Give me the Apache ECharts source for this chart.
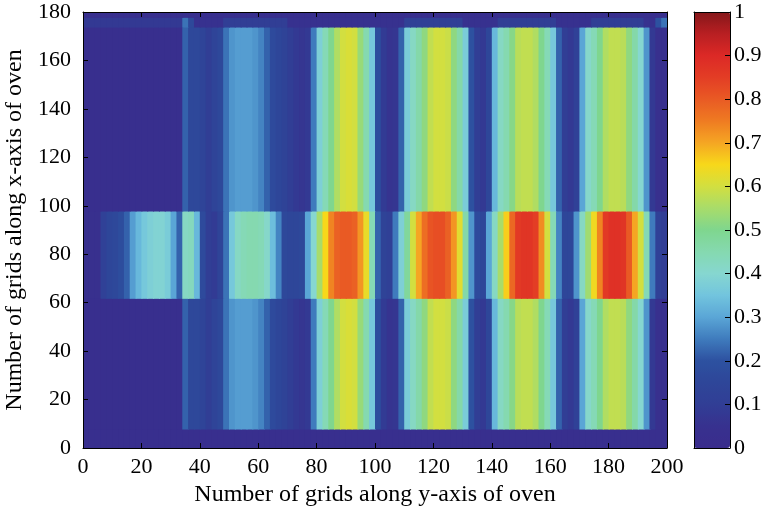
<!DOCTYPE html>
<html>
<head>
<meta charset="utf-8">
<script src="https://cdn.jsdelivr.net/npm/echarts@6/dist/echarts.min.js"></script>
<style>html,body{margin:0;padding:0;background:#fff}#c{width:762px;height:515px}</style>
</head>
<body>
<div id="c"></div>
<script>
// ---- data ----
// Each profile: 100 column values, column i covers x in [2i, 2i+2]
const cellSize = 2;
const xTickLabels = [0,20,40,60,80,100,120,140,160,180,200];
const yTickLabels = [0,20,40,60,80,100,120,140,160,180];
const colorbarTicks = [0,0.1,0.2,0.3,0.4,0.5,0.6,0.7,0.8,0.9,1];

const outerProfile = [
0.03,0.03,0.03,0.03,0.03,0.03,0.03,0.03,0.03,0.03,
0.03,0.03,0.03,0.03,0.03,0.03,0.03,0.22,0.16,0.16,
0.14,0.10,0.14,0.16,0.24,0.28,0.29,0.29,0.29,0.28,
0.26,0.22,0.17,0.15,0.13,0.10,0.08,0.07,0.08,0.25,
0.38,0.44,0.50,0.56,0.60,0.61,0.60,0.53,0.45,0.36,
0.18,0.09,0.06,0.07,0.22,0.37,0.42,0.46,0.52,0.58,
0.60,0.60,0.59,0.52,0.46,0.37,0.20,0.10,0.08,0.15,
0.33,0.42,0.45,0.51,0.57,0.58,0.58,0.56,0.50,0.44,
0.36,0.22,0.10,0.08,0.12,0.30,0.41,0.44,0.50,0.56,
0.58,0.58,0.57,0.52,0.46,0.40,0.28,0.08,0.04,0.04
];
const middleProfile = [
0.04,0.04,0.04,0.12,0.15,0.16,0.18,0.22,0.29,0.33,
0.36,0.38,0.39,0.39,0.37,0.30,0.22,0.42,0.43,0.33,
0.17,0.10,0.09,0.14,0.24,0.36,0.42,0.44,0.45,0.45,
0.44,0.41,0.34,0.26,0.16,0.15,0.15,0.16,0.30,0.40,
0.55,0.65,0.74,0.79,0.80,0.80,0.79,0.72,0.63,0.44,
0.22,0.13,0.11,0.25,0.38,0.48,0.60,0.70,0.77,0.81,
0.82,0.82,0.79,0.72,0.62,0.46,0.28,0.17,0.15,0.30,
0.42,0.55,0.66,0.78,0.86,0.87,0.87,0.85,0.73,0.60,
0.44,0.26,0.15,0.15,0.28,0.42,0.54,0.64,0.74,0.86,
0.88,0.88,0.87,0.80,0.70,0.60,0.44,0.25,0.12,0.10
];
const topLineProfile = [
0.08,0.08,0.08,0.08,0.08,0.08,0.08,0.08,0.08,0.08,
0.08,0.08,0.08,0.08,0.08,0.08,0.08,0.24,0.16,0.05,
0.05,0.05,0.05,0.05,0.10,0.10,0.10,0.10,0.10,0.10,
0.10,0.10,0.10,0.10,0.10,0.05,0.05,0.05,0.05,0.05,
0.05,0.05,0.05,0.05,0.05,0.05,0.05,0.05,0.05,0.05,
0.05,0.05,0.05,0.05,0.05,0.11,0.11,0.11,0.11,0.11,
0.11,0.11,0.11,0.11,0.11,0.05,0.05,0.05,0.05,0.05,
0.05,0.10,0.10,0.10,0.10,0.10,0.10,0.10,0.10,0.10,
0.10,0.05,0.05,0.05,0.05,0.05,0.05,0.10,0.10,0.10,
0.10,0.10,0.10,0.10,0.10,0.10,0.05,0.05,0.20,0.24
];
const darkLevel = 0.03;
// horizontal bands: [yStart, yEnd, profile name]
const rowBands = [
  [0, 8, 'dark'],
  [8, 62, 'outer'],
  [62, 98, 'middle'],
  [98, 174, 'outer'],
  [174, 178, 'topLine'],
  [178, 180, 'dark']
];
const jetColors = ['#3a2c8c','#37318f','#313e95','#2e4699','#2d51a0','#3f7bbd','#5aa6d6','#72c4de','#86d7d0','#85d9b0','#7fd68e','#a8dc6a','#d2df40','#f7d81a','#f5a623','#ef7b22','#e95a24','#e33d25','#dc2926','#b81f22','#85171a'];

// ---- build table: [x0, x1, y0, y1, value] ----
const profiles = {outer: outerProfile, middle: middleProfile, topLine: topLineProfile};
const nCols = outerProfile.length;
const cells = [];
rowBands.forEach(([y0, y1, name]) => {
  for (let i = 0; i < nCols; i++) {
    const v = name === 'dark' ? darkLevel : profiles[name][i];
    cells.push([i * cellSize, (i + 1) * cellSize, y0, y1, v]);
  }
});

const FONT = 'Liberation Serif';
const black = '#000';
const G = {left: 83, top: 12, width: 584, height: 436};
const CB = {left: 694, top: 12, width: 36, height: 436};

function valAxis(extra) {
  return Object.assign({
    type: 'value', z: 10,
    axisLine: {show: true, onZero: false, lineStyle: {color: black, width: 1}},
    axisTick: {show: true, inside: true, length: 5, lineStyle: {color: black, width: 1}},
    axisLabel: {show: true, color: black, fontFamily: FONT, fontSize: 22, margin: 8},
    splitLine: {show: false}
  }, extra);
}

const chart = echarts.init(document.getElementById('c'), null, {renderer: 'canvas'});
chart.setOption({
  animation: false,
  backgroundColor: '#fff',
  grid: [
    Object.assign({containLabel: false, outerBoundsMode: 'none'}, G),
    Object.assign({containLabel: false, outerBoundsMode: 'none'}, CB)
  ],
  xAxis: [
    valAxis({gridIndex: 0, position: 'bottom', min: 0, max: 200, interval: 20,
      name: 'Number of grids along y-axis of oven', nameLocation: 'middle', nameGap: 34,
      nameTextStyle: {color: black, fontFamily: FONT, fontSize: 24}}),
    valAxis({gridIndex: 0, position: 'top', min: 0, max: 200, interval: 20, axisLabel: {show: false}}),
    valAxis({gridIndex: 1, position: 'bottom', min: 0, max: 1, axisTick: {show: false}, axisLabel: {show: false}}),
    valAxis({gridIndex: 1, position: 'top', min: 0, max: 1, axisTick: {show: false}, axisLabel: {show: false}})
  ],
  yAxis: [
    valAxis({gridIndex: 0, position: 'left', min: 0, max: 180, interval: 20,
      axisLabel: {show: true, color: black, fontFamily: FONT, fontSize: 22, margin: 12},
      name: 'Number of grids along x-axis of oven', nameLocation: 'middle', nameGap: 53,
      nameTextStyle: {color: black, fontFamily: FONT, fontSize: 24}}),
    valAxis({gridIndex: 0, position: 'right', min: 0, max: 180, interval: 20, axisLabel: {show: false}}),
    valAxis({gridIndex: 1, position: 'right', min: 0, max: 1, interval: 0.1,
      axisLabel: {show: true, color: black, fontFamily: FONT, fontSize: 22, margin: 4,
        formatter: v => (v === 0 || v === 1) ? String(v) : v.toFixed(1)}}),
    valAxis({gridIndex: 1, position: 'left', min: 0, max: 1, interval: 0.1, axisTick: {show: false}, axisLabel: {show: false}})
  ],
  visualMap: {
    type: 'continuous', min: 0, max: 1, seriesIndex: 0, dimension: 4, show: true, calculable: false,
    orient: 'vertical', left: CB.left, top: CB.top, itemWidth: CB.width, itemHeight: CB.height,
    padding: 0, text: null, inRange: {color: jetColors}
  },
  series: [{
    type: 'custom', xAxisIndex: 0, yAxisIndex: 0, data: cells, clip: true,
    encode: {x: [0, 1], y: [2, 3]},
    renderItem: function (params, api) {
      const p0 = api.coord([api.value(0), api.value(3)]);
      const p1 = api.coord([api.value(1), api.value(2)]);
      return {
        type: 'rect',
        shape: {x: p0[0], y: p0[1], width: p1[0] - p0[0] + 1, height: p1[1] - p0[1] + 1},
        style: {fill: api.visual('color'), stroke: null}
      };
    }
  }]
});
</script>
</body>
</html>
